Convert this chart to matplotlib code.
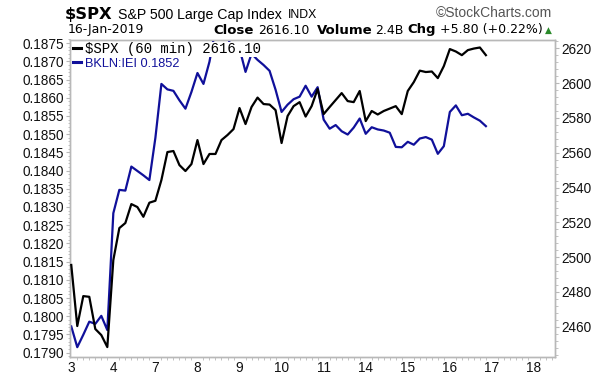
import matplotlib
matplotlib.use("Agg")
import matplotlib.pyplot as plt
from matplotlib.ticker import MultipleLocator
import numpy as np

# trading days shown on the x axis (January 2019)
day_labels = ['3', '4', '7', '8', '9', '10', '11', '14', '15', '16', '17', '18']
bars_per_day = 7   # 60 min bars

# BKLN:IEI ratio, hourly (left axis)
bkln_iei = [0.17972, 0.17915, 0.17949, 0.17985, 0.17979, 0.18001, 0.17962,
            0.18283, 0.18347, 0.18345, 0.18411, 0.18399, 0.18387, 0.18374,
            0.18490, 0.18638, 0.18623, 0.18619, 0.18593, 0.18570, 0.18616,
            0.18668, 0.18638, 0.18699, 0.18790, 0.18795, 0.18770, 0.18715,
            0.18735, 0.18671, 0.18721, 0.18704, 0.18690, 0.18674, 0.18622,
            0.18561, 0.18581, 0.18596, 0.18603, 0.18633, 0.18603, 0.18629,
            0.18540, 0.18515, 0.18525, 0.18508, 0.18499, 0.18518, 0.18543,
            0.18501, 0.18519, 0.18513, 0.18510, 0.18504, 0.18465, 0.18464,
            0.18479, 0.18471, 0.18488, 0.18492, 0.18485, 0.18446, 0.18467,
            0.18561, 0.18579, 0.18552, 0.18556, 0.18546, 0.18537, 0.18522]

# $SPX hourly close (right axis)
spx = [2495.5, 2460.4, 2477.6, 2477.2, 2458.7, 2455.2, 2448.3,
       2498.3, 2516.7, 2519.6, 2530.5, 2528.8, 2523.2, 2531.3,
       2532.4, 2544.3, 2560.4, 2561.0, 2552.9, 2549.5, 2553.5,
       2567.3, 2553.5, 2559.3, 2559.3, 2567.3, 2570.2, 2573.6,
       2585.7, 2576.5, 2586.3, 2591.7, 2588.0, 2587.7, 2584.5,
       2565.6, 2581.1, 2586.8, 2589.1, 2580.8, 2586.8, 2596.6,
       2582.2, 2586.3, 2590.3, 2594.3, 2589.7, 2589.1, 2595.5,
       2578.2, 2584.0, 2582.0, 2584.0, 2585.4, 2586.8, 2582.2,
       2595.5, 2600.6, 2607.2, 2606.4, 2606.7, 2602.9, 2609.8,
       2619.6, 2618.2, 2616.1, 2619.0, 2619.9, 2620.5, 2616.1]

x = np.arange(len(spx)) / bars_per_day

blue = '#10109a'
frame_gray = '#b8b8b8'

fig = plt.figure(figsize=(6.12, 3.78), dpi=100)
W, H = 612.0, 378.0
ax = fig.add_axes([70 / W, 21 / H, 485 / W, 317.5 / H])
ax2 = ax.twinx()

ax.plot(x, bkln_iei, color=blue, lw=1.6, label='BKLN:IEI 0.1852', zorder=3)
ax2.plot(x, spx, color='black', lw=1.6, label='$SPX (60 min) 2616.10', zorder=3)

ax.set_xlim(-0.03, 11.5)
ax.set_ylim(0.17888, 0.18760)
ax2.set_ylim(2442.6, 2625.1)

ax.set_xticks(range(len(day_labels)))
ax.set_xticklabels(day_labels)
ax.xaxis.set_minor_locator(MultipleLocator(1 / bars_per_day))
yt = np.arange(0.1790, 0.18751, 0.0005)
ax.set_yticks(yt)
ax.set_yticklabels(['%.4f' % v for v in yt])
ax.yaxis.set_minor_locator(MultipleLocator(0.0001))
ax2.set_yticks(np.arange(2460, 2621, 20))
ax2.yaxis.set_minor_locator(MultipleLocator(4))

for a in (ax, ax2):
    for s in a.spines.values():
        s.set_color(frame_gray)
        s.set_linewidth(1.0)
    a.tick_params(which='major', length=3, width=0.8, color=frame_gray,
                  labelsize=9.8, labelcolor='#111111', pad=1.5,
                  labelfontfamily='Liberation Sans')
    a.tick_params(which='minor', length=1.8, width=0.6, color=frame_gray)
ax.tick_params(axis='x', which='major', length=0, pad=3)
ax.tick_params(axis='x', which='minor', length=2)

# legend in the top-left corner
h1, l1 = ax2.get_legend_handles_labels()
h2, l2 = ax.get_legend_handles_labels()
leg = ax2.legend(h1 + h2, l1 + l2, loc='upper left', frameon=False,
                 handlelength=0.6, handletextpad=0.25, labelspacing=0.05,
                 borderaxespad=0.1, borderpad=0.1, labelcolor='linecolor')
leg.get_texts()[0].set_fontfamily('Liberation Mono')
leg.get_texts()[0].set_fontsize(10.1)
leg.get_texts()[0].set_bbox(dict(facecolor='white', edgecolor='none', pad=0.5))
leg.get_texts()[1].set_fontfamily('Liberation Sans')
leg.get_texts()[1].set_fontsize(9.2)
for line in leg.get_lines():
    line.set_linewidth(2.2)

# header (positions in pixels from the top-left corner)
def ftext(px, py, s, ha='left', **kw):
    kw.setdefault('family', 'DejaVu Sans')
    fig.text(px / W, 1 - py / H, s, va='baseline', ha=ha, **kw)

ftext(65, 18.5, '$SPX', fontsize=11.8, fontweight='bold')
ftext(118, 18.5, 'S&P 500 Large Cap Index', fontsize=10.2, family='Liberation Sans')
ftext(288, 18.5, 'INDX', fontsize=8.8, family='Liberation Sans')
ftext(552, 17, '\u00a9StockCharts.com', ha='right', fontsize=10, color='#555555',
      family='Liberation Sans')
ftext(68, 33.5, '16-Jan-2019', fontsize=9)
ftext(213, 33.5, 'Close', fontsize=9.5, fontweight='bold')
ftext(258, 33.5, '2616.10', fontsize=9)
ftext(317, 33.5, 'Volume', fontsize=9.5, fontweight='bold')
ftext(375, 33.5, '2.4B', fontsize=9)
ftext(407, 33.5, 'Chg', fontsize=9.5, fontweight='bold')
ftext(440, 33.5, '+5.80 (+0.22%)', fontsize=9)
ftext(545, 32.5, '\u25b2', fontsize=6.5, color='#2a8a2a')

fig.savefig('out.png', dpi=100)
